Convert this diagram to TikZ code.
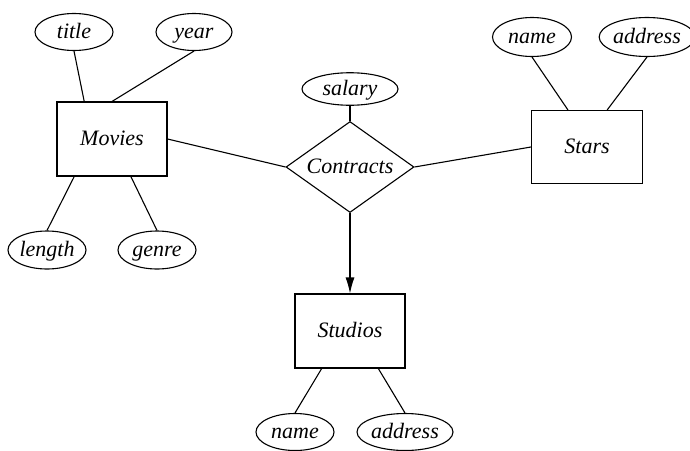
\documentclass[tikz,border=0pt]{standalone}
\usepackage{fontspec}
\setmainfont{Liberation Serif}
\usetikzlibrary{shapes.geometric,arrows.meta,calc}
\begin{document}
\begin{tikzpicture}[x=1pt,y=-1pt,line width=1.1pt,
  every node/.style={font=\fontsize{22}{26}\selectfont\itshape,text height=18pt,text depth=5pt},
  entity/.style={draw,rectangle,minimum width=110pt,minimum height=74pt,inner sep=0pt},
  attr/.style={draw,ellipse,inner sep=0pt,minimum width=78pt,minimum height=37pt},
  rel/.style={draw,diamond,inner sep=0pt,aspect=1.41,minimum width=128pt,minimum height=91pt}]
\useasboundingbox (0,0) rectangle (690,450);
% entities
\node[entity] (movies) at (112,139) {Movies};
\node[entity,minimum width=111pt,minimum height=73pt] (stars) at (587,147) {Stars};
\node[entity] (studios) at (350,331) {Studios};
\node[rel] (contracts) at (350,167) {Contracts};
% attributes
\node[attr] (title) at (74,32) {title};
\node[attr,minimum width=76pt] (year) at (194,32) {year};
\node[attr,minimum height=38pt] (length) at (47,250) {length};
\node[attr,minimum height=38pt] (genre) at (157,250) {genre};
\node[attr,minimum width=96pt,minimum height=32pt] (salary) at (350,89) {salary};
\node[attr,minimum width=79pt,minimum height=39pt] (sname) at (532,37) {name};
\node[attr,minimum width=88pt,minimum height=39pt] (saddr) at (647,37) {address};
\node[attr] (dname) at (295,432) {name};
\node[attr,minimum width=96pt] (daddr) at (405,432) {address};
% anchor points on entity borders
\coordinate (mt1) at ($(movies.north west)!.25!(movies.north east)$);
\coordinate (mb1) at ($(movies.south west)!.16!(movies.south east)$);
\coordinate (mb2) at ($(movies.south west)!.67!(movies.south east)$);
\coordinate (st1) at ($(stars.north west)!.33!(stars.north east)$);
\coordinate (st2) at ($(stars.north west)!.68!(stars.north east)$);
\coordinate (db1) at ($(studios.south west)!.245!(studios.south east)$);
\coordinate (db2) at ($(studios.south west)!.755!(studios.south east)$);
% connectors
\draw (title.south) -- (mt1);
\draw (year.south) -- (movies.north);
\draw (length.north) -- (mb1);
\draw (genre.north) -- (mb2);
\draw (sname.south) -- (st1);
\draw (saddr.south) -- (st2);
\draw (dname.north) -- (db1);
\draw (daddr.north) -- (db2);
\draw (salary.south) -- (contracts.north);
\draw (movies.east) -- (contracts.west);
\draw (stars.west) -- (contracts.east);
\draw[-{Latex[length=16pt,width=9pt]}] (contracts.south) -- (studios.north);
\end{tikzpicture}
\end{document}
